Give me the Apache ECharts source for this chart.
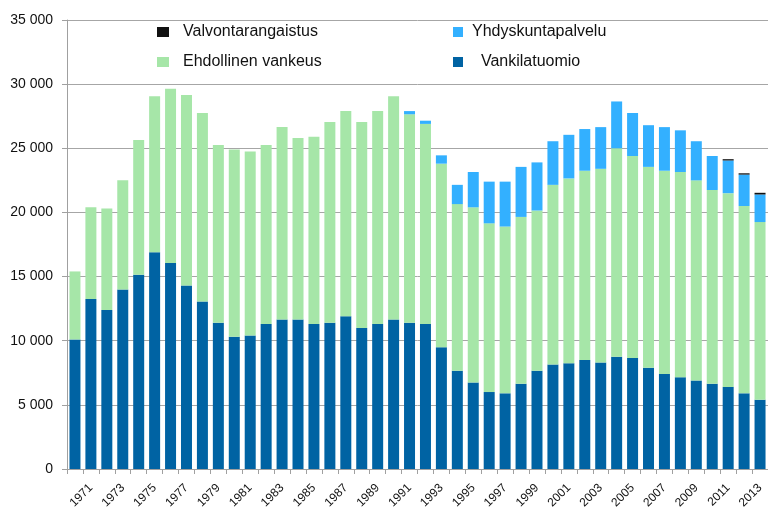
<!DOCTYPE html>
<html>
<head>
<meta charset="utf-8">
<script src="https://cdn.jsdelivr.net/npm/echarts@6/dist/echarts.min.js"></script>
<style>
html,body{margin:0;padding:0;background:#fff;}
#c{width:768px;height:512px;}
</style>
</head>
<body>
<div id="c"></div>
<script>
var years = [];
for (var y = 1970; y <= 2013; y++) years.push(String(y));

var vankilatuomio = [10100,13250,12400,14000,15150,16900,16050,14300,13050,11400,
  10300,10400,11300,11650,11650,11300,11400,11900,11000,11300,
  11650,11400,11300,9500,7650,6750,6000,5900,6650,7650,
  8150,8250,8500,8300,8750,8650,7900,7400,7150,6900,
  6650,6400,5900,5400];

var ehdollinen = [5300,7150,7900,8500,10500,12150,13600,14850,14700,13850,
  14600,14350,13950,15000,14150,14600,15650,16000,16050,16600,
  17400,16250,15600,14300,13000,13650,13150,13000,13000,12500,
  14000,14400,14750,15100,16250,15750,15650,15850,16000,15600,
  15100,15100,14600,13850];

var yhdyskuntapalvelu = [0,0,0,0,0,0,0,0,0,0,
  0,0,0,0,0,0,0,0,0,0,
  0,250,250,650,1500,2750,3250,3500,3900,3750,
  3400,3400,3250,3250,3650,3350,3250,3400,3250,3050,
  2650,2550,2450,2150];

var valvontarangaistus = [0,0,0,0,0,0,0,0,0,0,
  0,0,0,0,0,0,0,0,0,0,
  0,0,0,0,0,0,0,0,0,0,
  0,0,0,0,0,0,0,0,0,0,
  0,100,100,130];

var yTicks = [0,5000,10000,15000,20000,25000,30000,35000];

var FONT = '"Liberation Sans", Arial, sans-serif';
var chart = echarts.init(document.getElementById('c'), null, {renderer:'canvas'});

function fmt(v){
  var s = String(v);
  if (v >= 1000) s = s.slice(0, s.length-3) + ' ' + s.slice(s.length-3);
  return s;
}

var legendText = {fontFamily: FONT, fontSize: 16, color: '#111', lineHeight: 16};

chart.setOption({
  animation: false,
  backgroundColor: '#fff',
  grid: {left: 67, top: 20, right: 0, bottom: 43, containLabel: false},
  legend: [
    {
      data: ['Valvontarangaistus', 'Ehdollinen vankeus'],
      orient: 'vertical', left: 152, top: 19, itemGap: 14,
      itemWidth: 12, itemHeight: 10, icon: 'rect',
      textStyle: Object.assign({padding: [0,0,0,9]}, legendText),
      selectedMode: false
    },
    {
      data: ['Yhdyskuntapalvelu', 'Vankilatuomio'],
      orient: 'vertical', left: 448, top: 19, itemGap: 14,
      itemWidth: 10, itemHeight: 10, icon: 'rect',
      formatter: function(n){ return n === 'Vankilatuomio' ? '  ' + n : n; },
      textStyle: Object.assign({padding: [0,0,0,4]}, legendText),
      selectedMode: false
    }
  ],
  xAxis: {
    type: 'category',
    data: years,
    axisLine: {lineStyle: {color: '#a0a0a0', width: 1}},
    axisTick: {show: true, interval: 0, length: 5, lineStyle: {color: '#a0a0a0'}},
    axisLabel: {
      interval: function(i){ return i % 2 === 1; },
      rotate: 45, margin: 17,
      fontFamily: FONT, fontSize: 12, color: '#111'
    },
    splitLine: {show: false}
  },
  yAxis: {
    type: 'value',
    min: 0, max: 35000, interval: 5000,
    axisLine: {show: true, lineStyle: {color: '#a0a0a0', width: 1}},
    axisTick: {show: true, length: 5, lineStyle: {color: '#a0a0a0'}},
    axisLabel: {
      margin: 14,
      formatter: function(v){ return yTicks.indexOf(v) >= 0 ? fmt(v) : ''; },
      fontFamily: FONT, fontSize: 14, color: '#111'
    },
    splitLine: {show: true, lineStyle: {color: '#a6a6a6', width: 1}}
  },
  series: [
    {name: 'Vankilatuomio', type: 'bar', stack: 't', data: vankilatuomio,
     barCategoryGap: '31%', itemStyle: {color: '#0063a3'}},
    {name: 'Ehdollinen vankeus', type: 'bar', stack: 't', data: ehdollinen,
     itemStyle: {color: '#a6e6a8'}},
    {name: 'Yhdyskuntapalvelu', type: 'bar', stack: 't', data: yhdyskuntapalvelu,
     itemStyle: {color: '#33b0ff'}},
    {name: 'Valvontarangaistus', type: 'bar', stack: 't', data: valvontarangaistus,
     itemStyle: {color: '#111111'}}
  ]
});
</script>
</body>
</html>
